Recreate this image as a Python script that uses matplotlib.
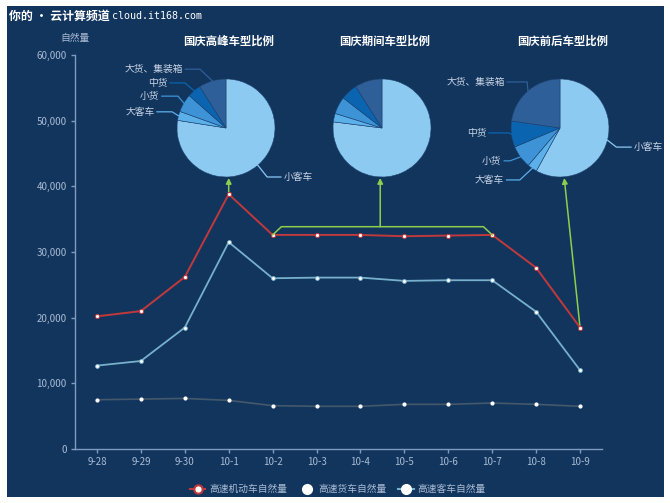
import numpy as np
import matplotlib
matplotlib.use("Agg")
import matplotlib.pyplot as plt
from matplotlib.lines import Line2D

plt.rcParams['font.family'] = ['Noto Sans CJK SC', 'DejaVu Sans']

# ---------------- data ----------------
dates = ['9-28', '9-29', '9-30', '10-1', '10-2', '10-3', '10-4',
         '10-5', '10-6', '10-7', '10-8', '10-9']
motor = [20200, 21000, 26200, 38800, 32600, 32600, 32600, 32400, 32500, 32600, 27600, 18500]
truck = [7500, 7600, 7700, 7400, 6600, 6500, 6500, 6800, 6800, 7000, 6800, 6500]
bus = [12700, 13400, 18500, 31500, 26000, 26100, 26100, 25600, 25700, 25700, 20900, 12000]
series_names = ['高速机动车自然量', '高速货车自然量', '高速客车自然量']

pie_labels = ['小客车', '大客车', '小货', '中货', '大货、集装箱']
pie_peak = [77.5, 3.0, 6.0, 4.5, 9.0]
pie_during = [77.0, 2.8, 5.7, 5.5, 9.0]
pie_around = [58.0, 3.2, 7.5, 8.6, 22.7]
pie_titles = ['国庆高峰车型比例', '国庆期间车型比例', '国庆前后车型比例']

y_ticks = [0, 10000, 20000, 30000, 40000, 50000, 60000]

# ---------------- style ----------------
W, H = 670, 503
navy = '#12355e'
red = '#c0393b'
cyan = '#76b0cc'
gray = '#44586b'
green = '#8ccf4d'
axis_col = '#7f9bbf'
txt_col = '#a9bbd3'
slice_cols = ['#8ccaf2', '#5bb0ea', '#3d93d6', '#0a64b0', '#2f5f98']


def fx(x):
    return x / W


def fy(y):
    return 1 - y / H


fig = plt.figure(figsize=(W / 100, H / 100), dpi=100)
fig.patch.set_facecolor('white')
bg = fig.add_axes([fx(7), fy(497), fx(657), (497 - 6) / H], zorder=-10)
bg.set_facecolor(navy)
bg.set_xticks([])
bg.set_yticks([])
for s in bg.spines.values():
    s.set_visible(False)

fig.text(fx(9), fy(16), '你的 • 云计算频道', color='white', fontsize=8.6,
         ha='left', va='center', fontweight='bold')
fig.text(fx(112), fy(16), 'cloud.it168.com', color='white', fontsize=7.2,
         ha='left', va='center', family='DejaVu Sans Mono')

# ---------------- main line chart ----------------
ax = fig.add_axes([fx(75), fy(449), (602 - 75) / W, (449 - 55) / H])
ax.set_facecolor('none')
x = np.arange(len(dates))
ax.plot(x, truck, color=gray, lw=1.2, marker='o', ms=2.0, mfc='white', mec='white', zorder=3)
ax.plot(x, bus, color=cyan, lw=1.3, marker='o', ms=2.8, mfc='white', mec=cyan, mew=0.6, zorder=4)
ax.plot(x, motor, color=red, lw=1.4, marker='o', ms=3, mfc='white', mec=red, mew=0.7, zorder=5)

ax.set_xlim(-0.5, len(dates) - 0.5)
ax.set_ylim(0, 60000)
ax.set_xticks(x)
ax.set_xticklabels(dates)
ax.set_yticks(y_ticks)
ax.set_yticklabels([f'{v:,}' for v in y_ticks])
for s in ['top', 'right']:
    ax.spines[s].set_visible(False)
for s in ['left', 'bottom']:
    ax.spines[s].set_color(axis_col)
    ax.spines[s].set_linewidth(1)
ax.tick_params(colors=axis_col, labelcolor=txt_col, labelsize=7, length=3, width=1, pad=3)
fig.text(fx(75), fy(38), '自然量', color=txt_col, fontsize=7, ha='center', va='center')

# arrows / bracket (in data units)
top_y = (449 - 178) / (449 - 55) * 60000
br_y = (449 - 226.7) / (449 - 55) * 60000
arrow = dict(arrowstyle='-|>', color=green, lw=1.1, mutation_scale=8, shrinkA=0, shrinkB=0)
ax.annotate('', xy=(3, top_y), xytext=(3, motor[3]), arrowprops=arrow, annotation_clip=False)
ax.plot([4, 4.2, 8.8, 9], [motor[4], br_y, br_y, motor[9]], color=green, lw=1.1,
        clip_on=False, zorder=6)
ax.annotate('', xy=(6.45, top_y), xytext=(6.45, br_y), arrowprops=arrow, annotation_clip=False)
ax.annotate('', xy=(10.64, top_y), xytext=(11, motor[11]), arrowprops=arrow, annotation_clip=False)

# ---------------- pies ----------------
pie_centers = [226, 382, 560]
pie_data = [pie_peak, pie_during, pie_around]
# label layout: (elbow_x, elbow_y, end_x) in pie-radius units
layouts = [
    [(0.84, -1.0, 1.12), (-1.1, 0.33, -1.41), (-0.98, 0.65, -1.31),
     (-0.84, 0.92, -1.14), (-0.53, 1.2, -0.83)],
    None,
    [(1.15, -0.39, 1.45), (-0.82, -1.06, -1.09), (-1.02, -0.67, -1.14),
     (-1.05, -0.1, -1.45), (-0.67, 0.94, -1.08)],
]
R = 49
for cx, vals, title, lay in zip(pie_centers, pie_data, pie_titles, layouts):
    pa = fig.add_axes([fx(cx - R), fy(128 + R), 2 * R / W, 2 * R / H])
    pa.pie(vals, colors=slice_cols, startangle=90, counterclock=False, radius=1,
           wedgeprops=dict(edgecolor='#1d4470', linewidth=0.4))
    pa.set_xlim(-1, 1)
    pa.set_ylim(-1, 1)
    pa.axis('off')
    fig.text(fx(cx + 3), fy(41), title, color='white', fontsize=8.2,
             fontweight='bold', ha='center', va='center')
    if lay is None:
        continue
    tot = sum(vals)
    cum = np.cumsum(vals)
    for i, (lab, v) in enumerate(zip(pie_labels, vals)):
        th = np.deg2rad(360 * (cum[i] - v / 2) / tot)
        ax0, ay0 = np.sin(th), np.cos(th)
        ex, ey, endx = lay[i]
        pa.plot([ax0, ex, endx], [ay0, ey, ey], color=slice_cols[i], lw=0.9, clip_on=False)
        side = 1 if endx > ex else -1
        pa.text(endx + 0.05 * side, ey, lab, color='#c8d4e4', fontsize=7,
                ha='left' if side > 0 else 'right', va='center', clip_on=False)

# ---------------- legend ----------------
handles = [
    Line2D([], [], color=red, lw=1.5, marker='o', ms=6, mfc='white', mec=red, mew=1.5),
    Line2D([], [], color=navy, lw=1.5, marker='o', ms=7, mfc='white', mec='white'),
    Line2D([], [], color=cyan, lw=1.5, marker='o', ms=7, mfc='white', mec='white'),
]
leg = fig.legend(handles, series_names, loc='center', bbox_to_anchor=(fx(338), fy(489)),
                 ncol=3, frameon=False, fontsize=7, handlelength=1.6,
                 handletextpad=0.4, columnspacing=1.2, labelcolor=txt_col)

fig.savefig('out.png', dpi=100, facecolor=fig.get_facecolor())
